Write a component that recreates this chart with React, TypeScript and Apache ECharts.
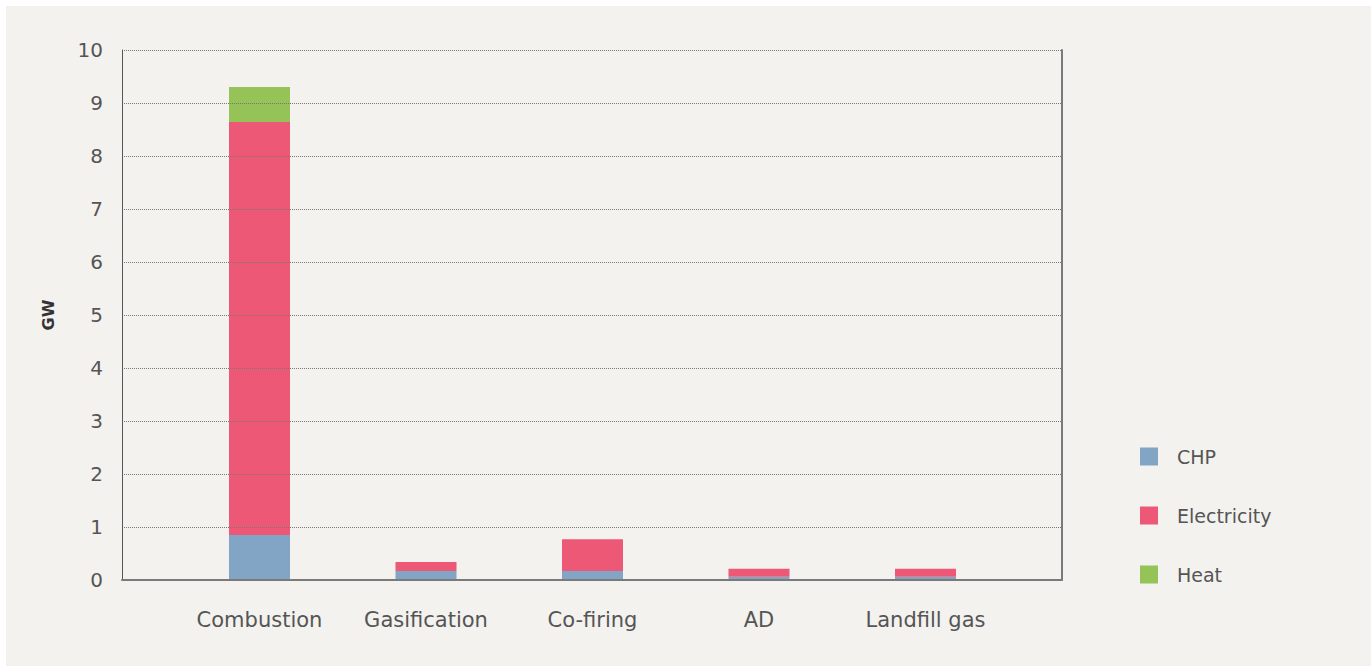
import React, { useEffect, useRef } from "react";
import * as echarts from "echarts";

const categories = ["Combustion", "Gasification", "Co-firing", "AD", "Landfill gas"];
const chp = [0.85, 0.17, 0.17, 0.06, 0.06];
const electricity = [7.79, 0.17, 0.6, 0.15, 0.15];
const heat = [0.66, 0, 0, 0, 0];
const yTicks = { min: 0, max: 10, interval: 1 };

const FONT = "'DejaVu Sans', sans-serif";

export default function App() {
  const ref = useRef<HTMLDivElement>(null);
  useEffect(() => {
    if (!ref.current) return;
    const chart = echarts.init(ref.current, undefined, { renderer: "svg" });
    chart.setOption({
      animation: false,
      backgroundColor: "#f3f2ef",
      textStyle: { fontFamily: FONT },
      legend: {
        orient: "vertical",
        left: 1134,
        top: 441,
        padding: 0,
        itemWidth: 18,
        itemHeight: 18,
        itemGap: 40,
        icon: "rect",
        textStyle: { fontSize: 19, color: "#555", padding: [0, 0, 0, 14], fontFamily: FONT },
        data: ["CHP", "Electricity", "Heat"],
      },
      grid: [
        { left: 116, top: 44, width: 940, height: 530 },
        { left: 170.25, top: 44, width: 832.5, height: 530 },
      ],
      xAxis: [
        {
          gridIndex: 0,
          type: "category",
          data: ["x"],
          axisLine: { show: true, lineStyle: { color: "#7a7a7a", width: 2 } },
          axisTick: { show: false },
          axisLabel: { show: false },
          z: 5,
        },
        {
          gridIndex: 1,
          type: "category",
          data: categories,
          axisLine: { show: false },
          axisTick: { show: false },
          axisLabel: { fontSize: 21, color: "#555", margin: 29, fontFamily: FONT },
        },
      ],
      yAxis: [
        {
          gridIndex: 0,
          type: "value",
          min: yTicks.min,
          max: yTicks.max,
          interval: yTicks.interval,
          name: "GW",
          nameLocation: "middle",
          nameGap: 66,
          nameRotate: 90,
          nameTextStyle: { fontSize: 16, fontWeight: "bold", color: "#333", fontFamily: FONT },
          axisLine: { show: true, lineStyle: { color: "#555", width: 1 } },
          axisTick: { show: false },
          axisLabel: { fontSize: 20, color: "#555", margin: 19, fontFamily: FONT },
          splitLine: { show: true, lineStyle: { type: "dotted", color: "#777", width: 1 } },
          z: 5,
        },
        {
          gridIndex: 0,
          type: "value",
          position: "right",
          min: yTicks.min,
          max: yTicks.max,
          interval: yTicks.interval,
          axisLine: { show: true, lineStyle: { color: "#7a7a7a", width: 2 } },
          axisTick: { show: false },
          axisLabel: { show: false },
          splitLine: { show: false },
        },
        {
          gridIndex: 1,
          type: "value",
          min: yTicks.min,
          max: yTicks.max,
          interval: yTicks.interval,
          show: false,
          splitLine: { show: false },
        },
      ],
      series: [
        {
          name: "CHP",
          type: "bar",
          stack: "s",
          xAxisIndex: 1,
          yAxisIndex: 2,
          barWidth: 61,
          itemStyle: { color: "#82a5c6" },
          data: chp,
        },
        {
          name: "Electricity",
          type: "bar",
          stack: "s",
          xAxisIndex: 1,
          yAxisIndex: 2,
          barWidth: 61,
          itemStyle: { color: "#ec5875" },
          data: electricity,
        },
        {
          name: "Heat",
          type: "bar",
          stack: "s",
          xAxisIndex: 1,
          yAxisIndex: 2,
          barWidth: 61,
          itemStyle: { color: "#95c357" },
          data: heat,
        },
      ],
    });
    return () => chart.dispose();
  }, []);
  return (
    <div style={{ position: "absolute", left: 0, top: 0, width: 1371, height: 666, background: "#ffffff" }}>
      <div ref={ref} style={{ position: "absolute", left: 6, top: 6, width: 1365, height: 660 }} />
    </div>
  );
}
